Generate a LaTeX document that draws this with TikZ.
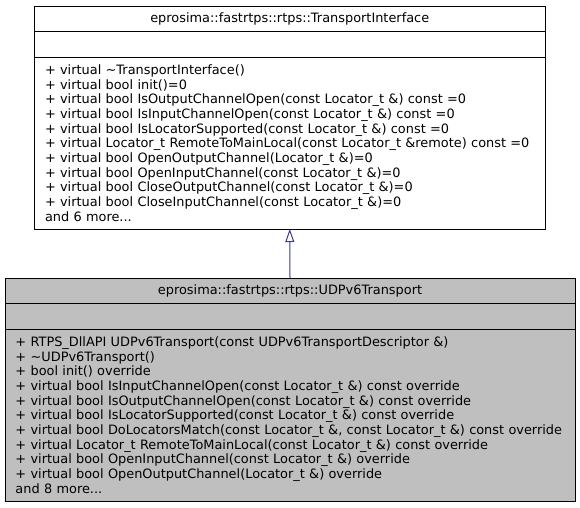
\documentclass[tikz,border=0pt]{standalone}
\usepackage{fontspec}
\setmainfont{DejaVu Sans}
\usetikzlibrary{
    arrows.meta,
    positioning
}
\definecolor{edgeblue}{RGB}{60,60,130}
\definecolor{classgray}{RGB}{191,191,191}

\begin{document}
\begin{tikzpicture}[
    x=1pt, y=-1pt,
    every node/.style={font=\fontsize{12.9}{14.7}\selectfont, outer sep=0pt, inner sep=0pt},
    classpart/.style={draw=black, line width=0.8pt, minimum height=#1, anchor=north},
    members/.style={classpart=172pt, align=left, inner xsep=10.5pt,
        execute at begin node={\hyphenpenalty=10000\hbadness=10000}},
    inherit/.style={-{Triangle[open, length=13pt, width=9pt]}, edgeblue, line width=1pt}
]
    \useasboundingbox (0,0) rectangle (580,507);

    % base class
    \node[classpart=25pt, minimum width=510.5pt] (ti_name) at (289.75,6)
        {eprosima::fastrtps::rtps::TransportInterface};
    \node[classpart=26pt, minimum width=510.5pt, below=0pt of ti_name] (ti_attr) {};
    \node[members, text width=489.5pt, below=0pt of ti_attr] (ti_ops) {%
        + virtual \textasciitilde TransportInterface()\\
        + virtual bool init()=0\\
        + virtual bool IsOutputChannelOpen(const Locator\_t \&) const =0\\
        + virtual bool IsInputChannelOpen(const Locator\_t \&) const =0\\
        + virtual bool IsLocatorSupported(const Locator\_t \&) const =0\\
        + virtual Locator\_t RemoteToMainLocal(const Locator\_t \&remote) const =0\\
        + virtual bool OpenOutputChannel(Locator\_t \&)=0\\
        + virtual bool OpenInputChannel(const Locator\_t \&)=0\\
        + virtual bool CloseOutputChannel(const Locator\_t \&)=0\\
        + virtual bool CloseInputChannel(const Locator\_t \&)=0\\
        and 6 more...};

    % derived class
    \node[classpart=25pt, minimum width=570pt, fill=classgray] (udp_name) at (290,278)
        {eprosima::fastrtps::rtps::UDPv6Transport};
    \node[classpart=26pt, minimum width=570pt, fill=classgray, below=0pt of udp_name] (udp_attr) {};
    \node[members, text width=549pt, fill=classgray, below=0pt of udp_attr] (udp_ops) {%
        + RTPS\_DllAPI UDPv6Transport(const UDPv6TransportDescriptor \&)\\
        + \textasciitilde UDPv6Transport()\\
        + bool init() override\\
        + virtual bool IsInputChannelOpen(const Locator\_t \&) const override\\
        + virtual bool IsOutputChannelOpen(const Locator\_t \&) const override\\
        + virtual bool IsLocatorSupported(const Locator\_t \&) const override\\
        + virtual bool DoLocatorsMatch(const Locator\_t \&, const Locator\_t \&) const override\\
        + virtual Locator\_t RemoteToMainLocal(const Locator\_t \&) const override\\
        + virtual bool OpenInputChannel(const Locator\_t \&) override\\
        + virtual bool OpenOutputChannel(Locator\_t \&) override\\
        and 8 more...};

    \draw[inherit] (udp_name.north) -- (ti_ops.south);
\end{tikzpicture}
\end{document}
